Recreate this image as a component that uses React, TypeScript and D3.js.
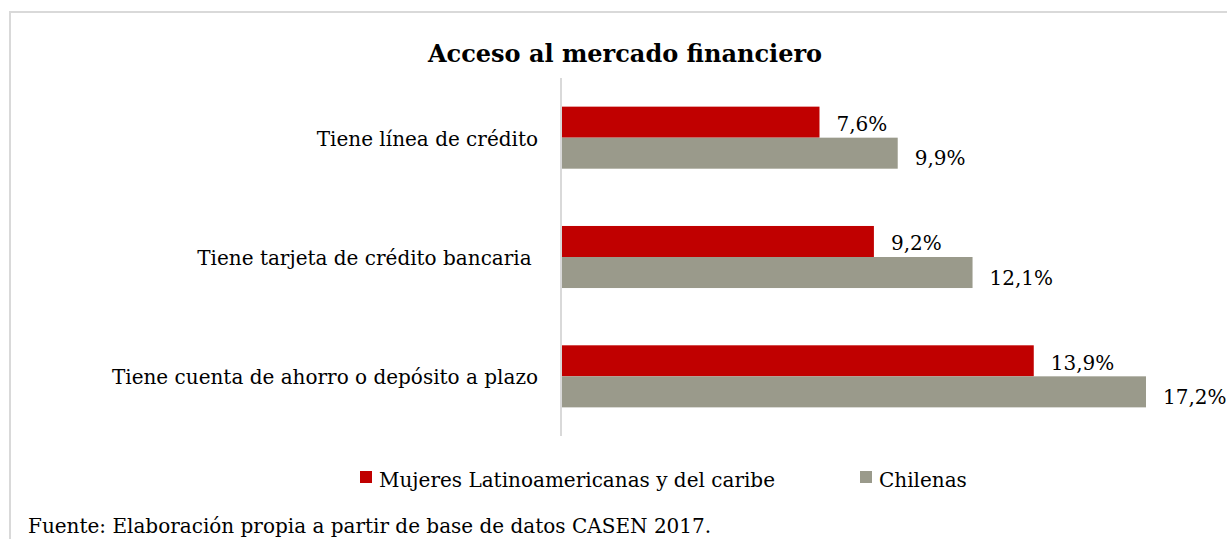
import React from "react";
import * as d3 from "d3";

const categories = [
  "Tiene línea de crédito",
  "Tiene tarjeta de crédito bancaria ",
  "Tiene cuenta de ahorro o depósito a plazo",
];
const seriesNames = ["Mujeres Latinoamericanas y del caribe", "Chilenas"];
const mujeresLatam = [7.6, 9.2, 13.9];
const chilenas = [9.9, 12.1, 17.2];
const seriesColors = ["#c00000", "#9a9a8b"];

const W = 1227;
const H = 539;
const FONT = "'DejaVu Serif', serif";

export default function App() {
  const x = d3.scaleLinear().domain([0, 17.2]).range([561, 1146]);
  const y = d3.scaleBand<string>().domain(categories).range([78, 436]).paddingInner(0.48).paddingOuter(0.24);
  const sub = d3.scaleBand<number>().domain([0, 1]).range([0, y.bandwidth()]);
  const values = [mujeresLatam, chilenas];
  const fmt = (v: number) => d3.format(".1f")(v).replace(".", ",") + "%";

  return (
    <svg width={W} height={H} style={{ position: "absolute", left: 0, top: 0, background: "#fff" }}>
      <rect x={10} y={12} width={1240} height={560} fill="#fff" stroke="#d9d9d9" strokeWidth={2} />
      <text x={625} y={62} textAnchor="middle" fontFamily={FONT} fontWeight="bold" fontSize={24} fill="#000">
        Acceso al mercado financiero
      </text>
      {categories.map((c, i) => (
        <g key={c}>
          {values.map((vals, s) => (
            <rect
              key={s}
              x={x(0)}
              y={(y(c) as number) + (sub(s) as number)}
              width={x(vals[i]) - x(0)}
              height={sub.bandwidth()}
              fill={seriesColors[s]}
            />
          ))}
          {values.map((vals, s) => (
            <text
              key={"l" + s}
              x={x(vals[i]) + 17}
              y={(y(c) as number) + (sub(s) as number) + sub.bandwidth() / 2 + (s === 0 ? 9 : 12)}
              fontFamily={FONT}
              fontSize={20}
              fill="#000"
            >
              {fmt(vals[i])}
            </text>
          ))}
          <text
            x={538}
            y={(y(c) as number) + y.bandwidth() / 2 + 8}
            textAnchor="end"
            fontFamily={FONT}
            fontSize={20}
            fill="#000"
            style={{ whiteSpace: "pre" }}
          >
            {c}
          </text>
        </g>
      ))}
      <line x1={x(0)} x2={x(0)} y1={78} y2={436} stroke="#d9d9d9" strokeWidth={2} />
      {seriesNames.map((n, s) => {
        const lx = s === 0 ? 360 : 860;
        return (
          <g key={n}>
            <rect x={lx} y={471} width={12} height={12} fill={seriesColors[s]} />
            <text x={lx + 19} y={487} fontFamily={FONT} fontSize={20} fill="#000">
              {n}
            </text>
          </g>
        );
      })}
      <text x={28} y={533} fontFamily={FONT} fontSize={20} fill="#000">
        Fuente: Elaboración propia a partir de base de datos CASEN 2017.
      </text>
    </svg>
  );
}
